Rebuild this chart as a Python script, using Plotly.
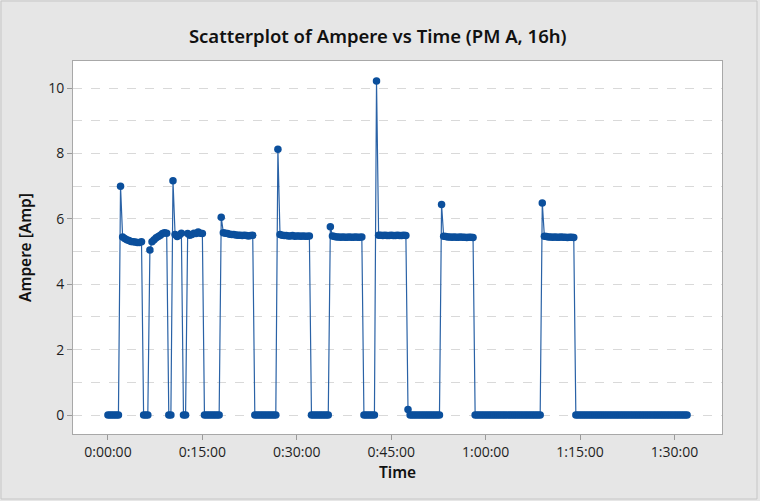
import plotly.graph_objects as go

# Logged current readings, one every 20 seconds starting at 0:00:00
sample_interval_s = 20

ampere = (
    [0, 0, 0, 0, 0, 0]
    + [7.00, 5.45, 5.40, 5.36, 5.34, 5.31, 5.30, 5.29, 5.28, 5.28, 5.30]
    + [0, 0, 0]
    + [5.05, 5.30, 5.36, 5.42, 5.46, 5.50, 5.55, 5.58, 5.56]
    + [0, 0]
    + [7.17, 5.52, 5.46, 5.50, 5.56]
    + [0, 0]
    + [5.55, 5.50, 5.52, 5.56, 5.55, 5.60, 5.56, 5.55]
    + [0, 0, 0, 0, 0, 0, 0, 0]
    + [6.05, 5.58, 5.56, 5.55, 5.53, 5.52, 5.52, 5.51, 5.50, 5.50, 5.49, 5.50, 5.49, 5.48, 5.49, 5.50]
    + [0, 0, 0, 0, 0, 0, 0, 0, 0, 0, 0]
    + [8.13, 5.52, 5.50, 5.49, 5.49, 5.48, 5.48, 5.49, 5.47, 5.48, 5.48, 5.47, 5.48, 5.47, 5.47, 5.48]
    + [0, 0, 0, 0, 0, 0, 0, 0, 0]
    + [5.76, 5.48, 5.46, 5.45, 5.45, 5.44, 5.45, 5.44, 5.44, 5.45, 5.44, 5.44, 5.45, 5.44, 5.44, 5.45]
    + [0, 0, 0, 0, 0, 0]
    + [10.22, 5.50, 5.50, 5.49, 5.50, 5.49, 5.49, 5.50, 5.49, 5.49, 5.50, 5.49, 5.49, 5.50, 5.49]
    + [0.17]
    + [0, 0, 0, 0, 0, 0, 0, 0, 0, 0, 0, 0, 0, 0, 0]
    + [6.44, 5.47, 5.46, 5.45, 5.45, 5.44, 5.45, 5.44, 5.44, 5.45, 5.44, 5.44, 5.43, 5.44, 5.44, 5.43]
    + [0, 0, 0, 0, 0, 0, 0, 0, 0, 0, 0, 0, 0, 0, 0, 0,
       0, 0, 0, 0, 0, 0, 0, 0, 0, 0, 0, 0, 0, 0, 0, 0]
    + [6.49, 5.47, 5.46, 5.45, 5.45, 5.44, 5.45, 5.44, 5.44, 5.45, 5.44, 5.44, 5.43, 5.44, 5.44, 5.43]
    + [0, 0, 0, 0, 0, 0, 0, 0, 0, 0, 0, 0, 0, 0, 0, 0, 0, 0,
       0, 0, 0, 0, 0, 0, 0, 0, 0, 0, 0, 0, 0, 0, 0, 0, 0, 0,
       0, 0, 0, 0, 0, 0, 0, 0, 0, 0, 0, 0, 0, 0, 0, 0, 0, 0]
)
time_s = [i * sample_interval_s for i in range(len(ampere))]

x_tick_values = [0, 900, 1800, 2700, 3600, 4500, 5400]
x_tick_labels = ["0:00:00", "0:15:00", "0:30:00", "0:45:00", "1:00:00", "1:15:00", "1:30:00"]
y_tick_values = [0, 2, 4, 6, 8, 10]

blue = "#0B4F9C"
font_family = "Open Sans, Noto Sans, sans-serif"
heading_family = "Noto Sans, Open Sans, sans-serif"

fig = go.Figure()
fig.add_trace(go.Scatter(
    x=time_s,
    y=ampere,
    mode="lines+markers",
    line=dict(color="#2A62A6", width=1.2),
    marker=dict(color=blue, size=7.5, line=dict(width=0)),
    showlegend=False,
))

W, H = 760, 501
ml, mr, mt, mb = 73, 38, 61, 67
pw, ph = W - ml - mr, H - mt - mb

fig.update_layout(
    width=W, height=H,
    margin=dict(l=ml, r=mr, t=mt, b=mb, pad=0),
    paper_bgcolor="#E6E6E6",
    plot_bgcolor="white",
    font=dict(family=font_family, color="#1E1E1E", size=14),
    title=dict(
        text="Scatterplot of Ampere vs Time (PM A, 16h)",
        x=0.497, xref="container", xanchor="center",
        y=1 - 37 / H, yanchor="middle",
        font=dict(size=18.5, color="#111111", family=heading_family, weight=600),
    ),
    xaxis=dict(
        range=[-333, 5853],
        tickvals=x_tick_values,
        ticktext=x_tick_labels,
        ticks="outside", ticklen=5, tickcolor="#9A9A9A",
        showgrid=False, zeroline=False,
        showline=True, linecolor="#A8A8A8", linewidth=1, mirror=True,
        tickfont=dict(size=14, color="#1E1E1E"),
        title=dict(text="Time", font=dict(size=15.5, color="#111111",
                                          family=heading_family, weight=600), standoff=5),
    ),
    yaxis=dict(
        range=[-0.58, 10.83],
        tickvals=y_tick_values,
        ticks="outside", ticklen=5, tickcolor="#9A9A9A",
        showgrid=True, gridcolor="#D9D9D9", griddash="dash", gridwidth=1,
        minor=dict(dtick=1, tick0=0, showgrid=True, gridcolor="#D9D9D9",
                   griddash="dash", gridwidth=1, ticklen=0),
        zeroline=False,
        showline=True, linecolor="#A8A8A8", linewidth=1, mirror=True,
        tickfont=dict(size=14, color="#1E1E1E"),
        title=dict(text="Ampere [Amp]", font=dict(size=15.5, color="#111111",
                                                  family=heading_family, weight=600), standoff=12),
    ),
    shapes=[dict(
        type="rect", xref="paper", yref="paper",
        x0=(1 - ml) / pw, x1=(757 - ml) / pw,
        y0=(ph + mt - 499) / ph, y1=(ph + mt - 1) / ph,
        line=dict(color="#C6C6C6", width=1), fillcolor="rgba(0,0,0,0)",
        layer="below",
    )],
)

fig.write_html("out.html")
